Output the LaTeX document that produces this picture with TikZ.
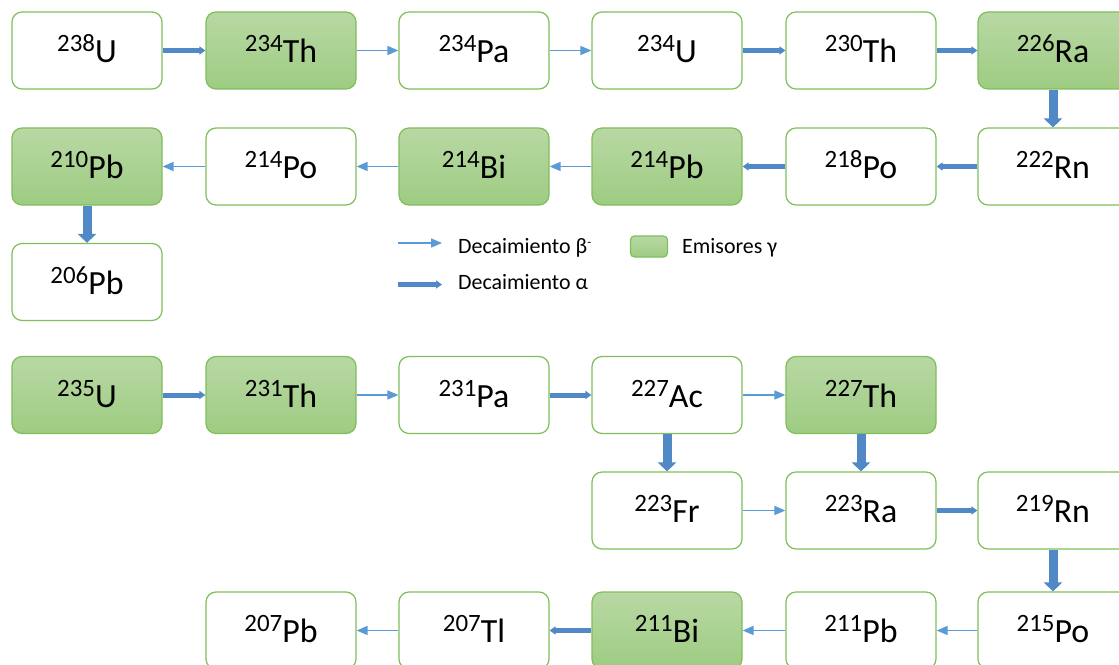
\documentclass[tikz,border=0pt]{standalone}
\usepackage{fontspec}
\setmainfont{Carlito}
\usetikzlibrary{arrows.meta}
\definecolor{bord}{RGB}{128,190,92}
\definecolor{gtop}{RGB}{184,216,164}
\definecolor{gbot}{RGB}{158,204,130}
\definecolor{bblue}{RGB}{91,155,213}
\definecolor{ablue}{RGB}{80,137,198}
\newcommand{\iso}[2]{{\fontsize{25}{25}\selectfont\raisebox{11bp}{#1}}{\fontsize{34}{34}\selectfont #2}}
\tikzset{
  box/.style={draw=bord, line width=1.2bp, rounded corners=10bp, minimum width=150bp,
    minimum height=77bp, inner sep=0pt, fill=white, text height=24bp, text depth=0bp},
  gam/.style={box, top color=gtop, bottom color=gbot},
  beta/.style={draw=bblue, line width=1.5bp, -{Triangle[length=11bp,width=9bp]}},
  alpha/.style={draw=ablue, line width=5bp, -{Triangle[length=6bp,width=8bp]}},
  valpha/.style={draw=ablue, line width=9bp, -{Triangle[length=9bp,width=18bp]}},
  legtext/.style={anchor=base west, inner sep=0pt, font=\fontsize{22}{22}\selectfont}
}
\begin{document}
\begin{tikzpicture}[x=1bp,y=-1bp]
\clip (0,0) rectangle (1119,665);
\fill[white] (0,0) rectangle (1119,665);
% row 1
\node[box] (u238) at (87,50.5) {\iso{238}{U}};
\node[gam] (th234) at (281,50.5) {\iso{234}{Th}};
\node[box] (pa234) at (474,50.5) {\iso{234}{Pa}};
\node[box] (u234) at (667,50.5) {\iso{234}{U}};
\node[box] (th230) at (861,50.5) {\iso{230}{Th}};
\node[gam] (ra226) at (1053,50.5) {\iso{226}{Ra}};
% row 2
\node[gam] (pb210) at (87,166.5) {\iso{210}{Pb}};
\node[box] (po214) at (281,166.5) {\iso{214}{Po}};
\node[gam] (bi214) at (474,166.5) {\iso{214}{Bi}};
\node[gam] (pb214) at (667,166.5) {\iso{214}{Pb}};
\node[box] (po218) at (861,166.5) {\iso{218}{Po}};
\node[box] (rn222) at (1053,166.5) {\iso{222}{Rn}};
% row 3
\node[box] (pb206) at (87,282) {\iso{206}{Pb}};
% row 4
\node[gam] (u235) at (87,395) {\iso{235}{U}};
\node[gam] (th231) at (281,395) {\iso{231}{Th}};
\node[box] (pa231) at (474,395) {\iso{231}{Pa}};
\node[box] (ac227) at (667,395) {\iso{227}{Ac}};
\node[gam] (th227) at (861,395) {\iso{227}{Th}};
% row 5
\node[box] (fr223) at (667,510.5) {\iso{223}{Fr}};
\node[box] (ra223) at (861,510.5) {\iso{223}{Ra}};
\node[box] (rn219) at (1053,510.5) {\iso{219}{Rn}};
% row 6
\node[box] (pb207) at (281,630.5) {\iso{207}{Pb}};
\node[box] (tl207) at (474,630.5) {\iso{207}{Tl}};
\node[gam] (bi211) at (667,630.5) {\iso{211}{Bi}};
\node[box] (pb211) at (861,630.5) {\iso{211}{Pb}};
\node[box] (po215) at (1053,630.5) {\iso{215}{Po}};
% arrows row 1
\draw[alpha] (u238.east) -- (th234.west);
\draw[beta] (th234.east) -- (pa234.west);
\draw[beta] (pa234.east) -- (u234.west);
\draw[alpha] (u234.east) -- (th230.west);
\draw[alpha] (th230.east) -- (ra226.west);
\draw[valpha] (ra226.south) -- (rn222.north);
% arrows row 2
\draw[alpha] (rn222.west) -- (po218.east);
\draw[alpha] (po218.west) -- (pb214.east);
\draw[beta] (pb214.west) -- (bi214.east);
\draw[beta] (bi214.west) -- (po214.east);
\draw[beta] (po214.west) -- (pb210.east);
\draw[valpha] (pb210.south) -- (pb206.north);
% arrows row 4
\draw[alpha] (u235.east) -- (th231.west);
\draw[beta] (th231.east) -- (pa231.west);
\draw[alpha] (pa231.east) -- (ac227.west);
\draw[beta] (ac227.east) -- (th227.west);
\draw[valpha] (ac227.south) -- (fr223.north);
\draw[valpha] (th227.south) -- (ra223.north);
% arrows row 5
\draw[beta] (fr223.east) -- (ra223.west);
\draw[alpha] (ra223.east) -- (rn219.west);
\draw[valpha] (rn219.south) -- (po215.north);
% arrows row 6
\draw[beta] (po215.west) -- (pb211.east);
\draw[beta] (pb211.west) -- (bi211.east);
\draw[alpha] (bi211.west) -- (tl207.east);
\draw[beta] (tl207.west) -- (pb207.east);
% legend
\coordinate (lb1) at (398,243);
\coordinate (lb2) at (442,243);
\coordinate (la1) at (398,284.5);
\coordinate (la2) at (442,284.5);
\draw[beta] (lb1) -- (lb2);
\draw[alpha] (la1) -- (la2);
\node[legtext] (ltb) at (458,253) {Decaimiento β\raisebox{7bp}{\fontsize{13}{13}\selectfont -}};
\node[legtext] (lta) at (458,289) {Decaimiento α};
\node[gam, minimum width=37bp, minimum height=21bp, rounded corners=4bp, text height=0bp] (lg) at (649,246.5) {};
\node[legtext] (ltg) at (682,253) {Emisores γ};
\end{tikzpicture}
\end{document}
